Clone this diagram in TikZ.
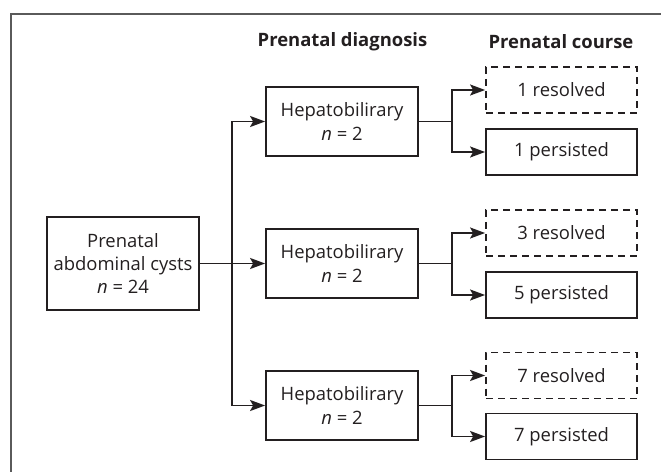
\documentclass[tikz,border=0pt]{standalone}
\usepackage{fontspec}
\setmainfont{Open Sans}
\usetikzlibrary{arrows.meta}
\definecolor{ink}{HTML}{231F20}
\definecolor{framec}{HTML}{5A5A5A}
\begin{document}
\begin{tikzpicture}[x=1bp,y=-1bp,
  every node/.style={text=ink},
  box/.style={draw=ink, line width=1.8bp, inner sep=0pt, align=center,
    font=\fontsize{18.5}{23.5}\selectfont},
  hep/.style={box, minimum width=152bp, minimum height=69bp},
  outb/.style={box, minimum width=151bp, minimum height=46bp},
  dbox/.style={outb, dash pattern=on 7bp off 5bp},
  head/.style={font=\fontsize{18.5}{20}\selectfont\bfseries},
  conn/.style={draw=ink, line width=1.8bp},
  arr/.style={conn, -{Stealth[length=15bp,width=11bp,inset=3bp]}},
  framel/.style={draw=framec, line width=1.5bp}
]
\useasboundingbox (0,0) rectangle (661,472);
\draw[framel] (11,472) -- (11,14) -- (661,14);

\node[head] (h1) at (342.5,42) {Prenatal diagnosis};
\node[head] (h2) at (561,42) {Prenatal course};

\node[box, minimum width=152bp, minimum height=93bp] (cy) at (123,263.5)
  {Prenatal\\abdominal cysts\\\textit{n} = 24};

\node[hep] (d1) at (342,121.5) {Hepatobilirary\\\textit{n} = 2};
\node[hep] (d2) at (342,263.5) {Hepatobilirary\\\textit{n} = 2};
\node[hep] (d3) at (342,405.5) {Hepatobilirary\\\textit{n} = 2};

\node[dbox] (r1) at (561.5,90) {1 resolved};
\node[outb] (p1) at (561.5,152) {1 persisted};
\node[dbox] (r2) at (561.5,233) {3 resolved};
\node[outb] (p2) at (561.5,295) {5 persisted};
\node[dbox] (r3) at (561.5,375.5) {7 resolved};
\node[outb] (p3) at (561.5,436.5) {7 persisted};

\coordinate (j) at (232,263.5);
\draw[arr] (cy.east) -- (d2.west);
\draw[arr] (j) |- (d1.west);
\draw[arr] (j) |- (d3.west);

\coordinate (b1) at (452,121.5);
\coordinate (b2) at (452,263.5);
\coordinate (b3) at (452,405.5);
\draw[conn] (d1.east) -- (b1);
\draw[conn] (d2.east) -- (b2);
\draw[conn] (d3.east) -- (b3);
\draw[arr] (b1) |- (r1.west);
\draw[arr] (b1) |- (p1.west);
\draw[arr] (b2) |- (r2.west);
\draw[arr] (b2) |- (p2.west);
\draw[arr] (b3) |- (r3.west);
\draw[arr] (b3) |- (p3.west);
\end{tikzpicture}
\end{document}
